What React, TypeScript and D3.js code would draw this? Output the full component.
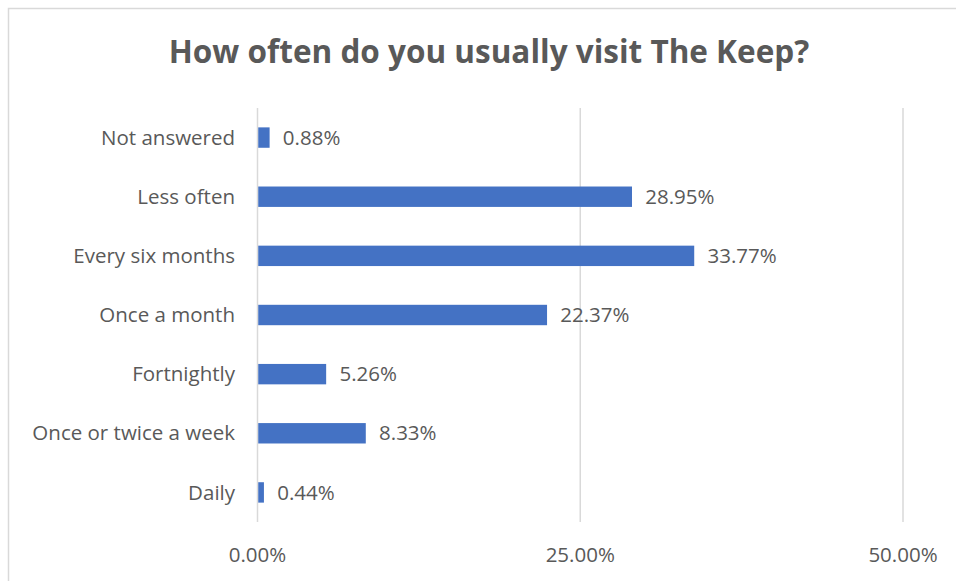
import React from 'react';
import * as d3 from 'd3';

const categories = ['Not answered', 'Less often', 'Every six months', 'Once a month', 'Fortnightly', 'Once or twice a week', 'Daily'];
const values = [0.88, 28.95, 33.77, 22.37, 5.26, 8.33, 0.44];
const ticks = [0, 25, 50];

const FONT = '"Open Sans", sans-serif';
const TEXT = '#595959';

const App: React.FC = () => {
  const width = 956;
  const height = 581;
  const margin = { left: 257.5, right: 53, top: 108, bottom: 59 };

  const x = d3.scaleLinear().domain([0, 50]).range([margin.left, width - margin.right]);
  const y = d3.scaleBand().domain(categories).range([margin.top, height - margin.bottom]).paddingInner(0.655).paddingOuter(0.3275);

  return (
    <svg width={width} height={height} style={{ position: 'absolute', left: 0, top: 0, fontFamily: FONT }}>
      <rect x={0} y={0} width={width} height={height} fill="#fff" />
      <rect x={8.5} y={8.5} width={width + 10} height={height + 10} fill="none" stroke="#d9d9d9" strokeWidth={1.5} />
      <text x={489} y={63} textAnchor="middle" fontSize={31.5} fontWeight="bold" fill={TEXT}>
        How often do you usually visit The Keep?
      </text>
      {ticks.map(t => (
        <g key={t}>
          <line x1={x(t)} x2={x(t)} y1={margin.top} y2={height - margin.bottom} stroke="#d9d9d9" strokeWidth={1.5} />
          <text x={x(t)} y={562} textAnchor="middle" fontSize={20.5} fill={TEXT}>{t.toFixed(2)}%</text>
        </g>
      ))}
      {categories.map((c, i) => {
        const yc = (y(c) || 0) + y.bandwidth() / 2;
        return (
          <g key={c}>
            <rect x={x(0) + 0.75} y={y(c)} width={x(values[i]) - x(0)} height={y.bandwidth()} fill="#4472C4" />
            <text x={235} y={yc} dy="0.35em" textAnchor="end" fontSize={20.5} fill={TEXT}>{c}</text>
            <text x={x(values[i]) + 14} y={yc} dy="0.35em" fontSize={20.5} fill={TEXT}>{values[i].toFixed(2)}%</text>
          </g>
        );
      })}
    </svg>
  );
};

export default App;
